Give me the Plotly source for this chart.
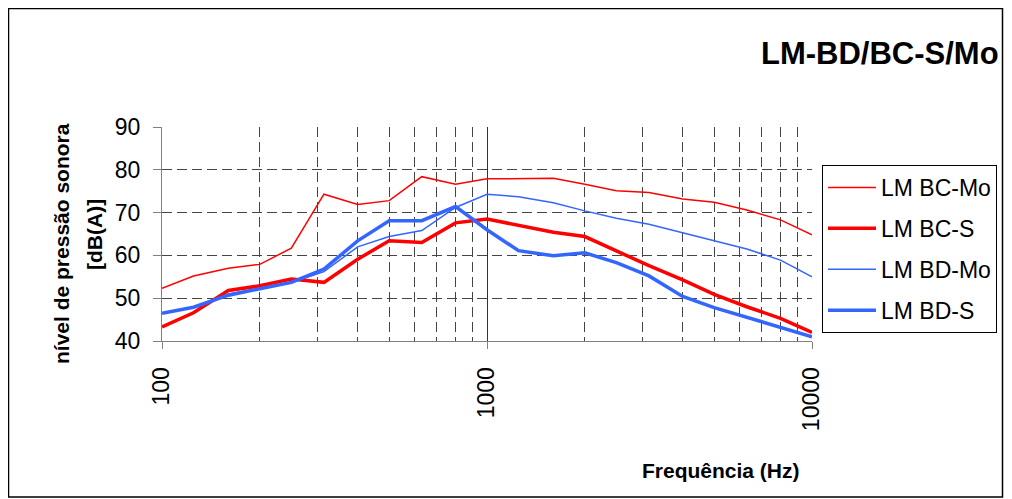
import plotly.graph_objects as go

freqs = [100, 125, 160, 200, 250, 315, 400, 500, 630, 800, 1000, 1250, 1600,
         2000, 2500, 3150, 4000, 5000, 6300, 8000, 10000]
lm_bc_mo = [52.3, 55.2, 57.0, 57.9, 61.7, 74.3, 71.9, 72.8, 78.4, 76.6, 77.9,
            77.9, 78.0, 76.6, 75.1, 74.7, 73.2, 72.4, 70.6, 68.3, 64.8]
lm_bc_s = [43.3, 46.6, 51.8, 52.9, 54.5, 53.7, 59.1, 63.4, 63.0, 67.6, 68.5,
           67.1, 65.4, 64.4, 61.0, 57.6, 54.3, 50.9, 48.0, 45.3, 42.0]
lm_bd_mo = [46.5, 47.9, 51.0, 52.3, 53.6, 56.2, 62.0, 64.4, 65.8, 71.2, 74.3,
            73.7, 72.3, 70.4, 68.7, 67.3, 65.3, 63.4, 61.5, 58.9, 55.0]
lm_bd_s = [46.5, 47.9, 50.7, 52.3, 53.7, 56.8, 63.4, 68.1, 68.1, 71.4, 66.0,
           61.1, 59.9, 60.6, 58.3, 55.2, 50.4, 47.8, 45.5, 43.3, 41.0]

series = [
    ("LM BC-Mo", lm_bc_mo, "#FF0000", 1.5),
    ("LM BC-S", lm_bc_s, "#FF0000", 3.5),
    ("LM BD-Mo", lm_bd_mo, "#3366FF", 1.5),
    ("LM BD-S", lm_bd_s, "#3366FF", 3.5),
]

FONT = "Arial, Liberation Sans, sans-serif"

# page coordinates -> paper coordinates (plot area spans x 162..812, y 127..341)
def px(x):
    return (x - 162) / 650

def py(y):
    return (341 - y) / 214

fig = go.Figure()
for i, (name, vals, color, w) in enumerate(series):
    fig.add_trace(go.Scatter(x=freqs, y=vals, mode="lines", name=name,
                             legendgroup=f"g{i}",
                             line=dict(color=color, width=w)))

fig.update_layout(
    width=1004, height=491,
    margin=dict(l=154, r=200, t=119, b=158),
    paper_bgcolor="white", plot_bgcolor="white",
    font=dict(family=FONT, color="black"),
    showlegend=True,
    legend=dict(x=px(822), y=py(165), xanchor="left", yanchor="top",
                bordercolor="black", borderwidth=1,
                font=dict(size=23, family=FONT),
                tracegroupgap=8, traceorder="grouped",
                itemwidth=48),
    xaxis=dict(type="log", range=[2, 4],
               tickvals=[100, 1000, 10000], ticktext=["100", "1000", "10000"],
               tickangle=-90, tickfont=dict(size=23), ticklabelstandoff=9,
               showgrid=True, gridcolor="#333333", gridwidth=1,
               showline=True, linecolor="#808080", linewidth=1,
               ticks="outside", ticklen=7, tickcolor="#808080",
               minor=dict(showgrid=True, dtick="D1", griddash="10px,5px",
                          gridcolor="#444444", gridwidth=1),
               zeroline=False),
    yaxis=dict(range=[40, 90], dtick=10, tickfont=dict(size=23),
               ticklabelstandoff=8,
               showgrid=True, gridcolor="#444444", griddash="10px,5px",
               gridwidth=1,
               showline=True, linecolor="#808080", linewidth=1,
               ticks="outside", ticklen=8, tickcolor="#808080",
               zeroline=False),
    annotations=[
        dict(text="<b>LM-BD/BC-S/Mo</b>", xref="paper", yref="paper",
             x=px(1001), y=py(54), xanchor="right", yanchor="middle",
             showarrow=False, font=dict(size=31, family=FONT)),
        dict(text="<b>nível de pressão sonora</b>", xref="paper",
             yref="paper", x=px(61), y=py(244), xanchor="center",
             yanchor="middle", textangle=-90, showarrow=False,
             font=dict(size=21, family=FONT)),
        dict(text="<b>[dB(A)]</b>", xref="paper",
             yref="paper", x=px(94), y=py(235), xanchor="center",
             yanchor="middle", textangle=-90, showarrow=False,
             font=dict(size=21, family=FONT)),
        dict(text="<b>Frequência (Hz)</b>", xref="paper", yref="paper",
             x=px(721), y=py(470), xanchor="center", yanchor="middle",
             showarrow=False, font=dict(size=21, family=FONT)),
    ],
    shapes=[
        dict(type="rect", xref="paper", yref="paper",
             x0=px(8.5), x1=px(1002.5), y0=py(497), y1=py(8.5),
             line=dict(color="black", width=1.5), fillcolor="rgba(0,0,0,0)"),
    ],
)

fig.write_html("out.html")
